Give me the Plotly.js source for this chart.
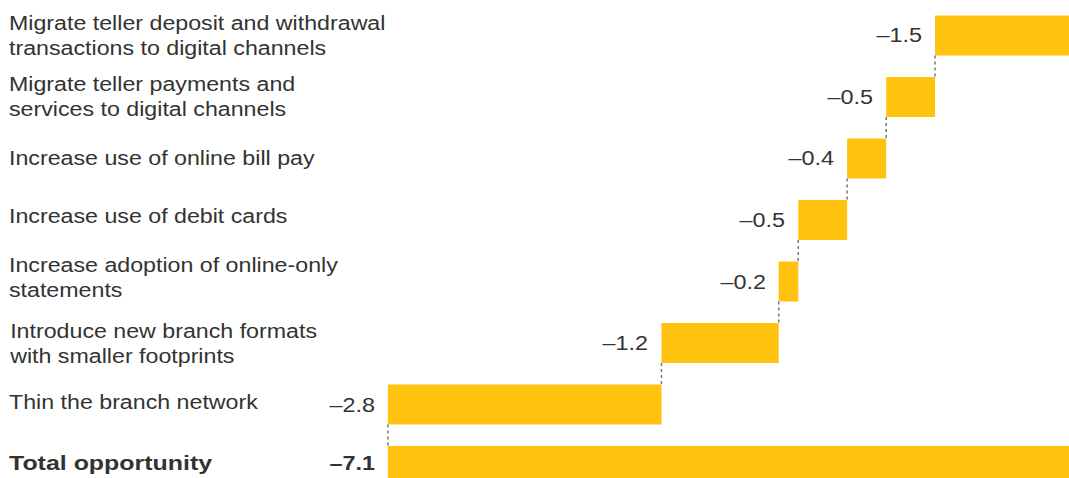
<!DOCTYPE html>
<html>
<head>
<meta charset="utf-8">
<script src="https://cdn.plot.ly/plotly-3.0.1.min.js"></script>
<style>html,body{margin:0;padding:0;background:#fff;}#chart{width:1069px;height:478px;}</style>
</head>
<body>
<div id="chart"></div>
<script>
// Data
const categories = [
  "Migrate teller deposit and withdrawal<br>transactions to digital channels",
  "Migrate teller payments and<br>services to digital channels",
  "Increase use of online bill pay",
  "Increase use of debit cards",
  "Increase adoption of online-only<br>statements",
  "Introduce new branch formats<br>with smaller footprints",
  "Thin the branch network"
];
const values = [-1.5, -0.5, -0.4, -0.5, -0.2, -1.2, -2.8];
const totalLabel = "Total opportunity";
const totalValue = -7.1;

// styling
const barColor = "#FFC20E";
const textColor = "#333333";
const fontFam = "Liberation Sans, Arial, Helvetica, sans-serif";
const fontSize = 19.5;
const labelNudge = [0, 0, 0, 4.5, 4, 0, 3];

// cumulative bases
const bases = [];
let run = 0;
values.forEach(v => { bases.push(run); run += v; });

const yIdx = categories.map((_, i) => i);
const totalIdx = categories.length;

const fmt = v => (v < 0 ? "\u2013" : "") + Math.abs(v).toFixed(1);

const traces = [
  {
    type: "bar", orientation: "h",
    y: yIdx, x: values, base: bases,
    width: 0.65,
    marker: {color: barColor, line: {width: 0}},
    hoverinfo: "skip", showlegend: false
  },
  {
    type: "bar", orientation: "h",
    y: [totalIdx], x: [totalValue], base: [0],
    width: 0.65,
    marker: {color: barColor, line: {width: 0}},
    hoverinfo: "skip", showlegend: false
  }
];

const annotations = [];
const stretch = [];
categories.forEach((c, i) => {
  annotations.push({
    xref: "paper", yref: "y", x: 0.0065, y: i, yshift: labelNudge[i], text: c,
    xanchor: "left", yanchor: "middle", align: "left", showarrow: false,
    font: {family: fontFam, size: fontSize, color: textColor}
  });
  stretch.push({origin: "left", s: 1.19});
  annotations.push({
    xref: "x", yref: "y", x: bases[i] + values[i], y: i, text: fmt(values[i]),
    xanchor: "right", yanchor: "middle", xshift: -11, showarrow: false,
    font: {family: fontFam, size: fontSize, color: textColor}
  });
  stretch.push({origin: "right", s: 1.2});
});
annotations.push({
  xref: "paper", yref: "y", x: 0.0065, y: totalIdx, yshift: 3, text: "<b>" + totalLabel + "</b>",
  xanchor: "left", yanchor: "middle", align: "left", showarrow: false,
  font: {family: fontFam, size: fontSize, color: textColor}
});
stretch.push({origin: "left", s: 1.28});
annotations.push({
  xref: "x", yref: "y", x: totalValue, y: totalIdx, yshift: 3, text: "<b>" + fmt(totalValue) + "</b>",
  xanchor: "right", yanchor: "middle", xshift: -11, showarrow: false,
  font: {family: fontFam, size: fontSize, color: textColor}
});
stretch.push({origin: "right", s: 1.2});

// connectors
const shapes = [];
for (let i = 0; i < values.length; i++) {
  const xEnd = bases[i] + values[i];
  shapes.push({
    type: "line", xref: "x", yref: "y",
    x0: xEnd, x1: xEnd, y0: i + 0.325, y1: i + 1 - 0.325,
    line: {color: "#777777", width: 1.5, dash: "dot"}
  });
}

const layout = {
  width: 1069, height: 478,
  margin: {l: 0, r: 0, t: 0, b: 0},
  paper_bgcolor: "#ffffff", plot_bgcolor: "#ffffff",
  xaxis: {range: [-11.070, -0.129], visible: false, fixedrange: true},
  yaxis: {range: [7.195, -0.577], visible: false, fixedrange: true},
  barmode: "overlay",
  annotations: annotations,
  shapes: shapes,
  showlegend: false
};

Plotly.newPlot("chart", traces, layout, {staticPlot: true, displayModeBar: false}).then(gd => {
  gd.querySelectorAll("g.annotation").forEach(g => {
    const idx = +g.getAttribute("data-index");
    const st = stretch[idx];
    const t = g.querySelector("text.annotation-text");
    if (!t || !st) return;
    t.style.transformBox = "fill-box";
    t.style.transformOrigin = st.origin + " center";
    t.style.transform = "scaleX(" + st.s + ")";
  });
});
</script>
</body>
</html>
